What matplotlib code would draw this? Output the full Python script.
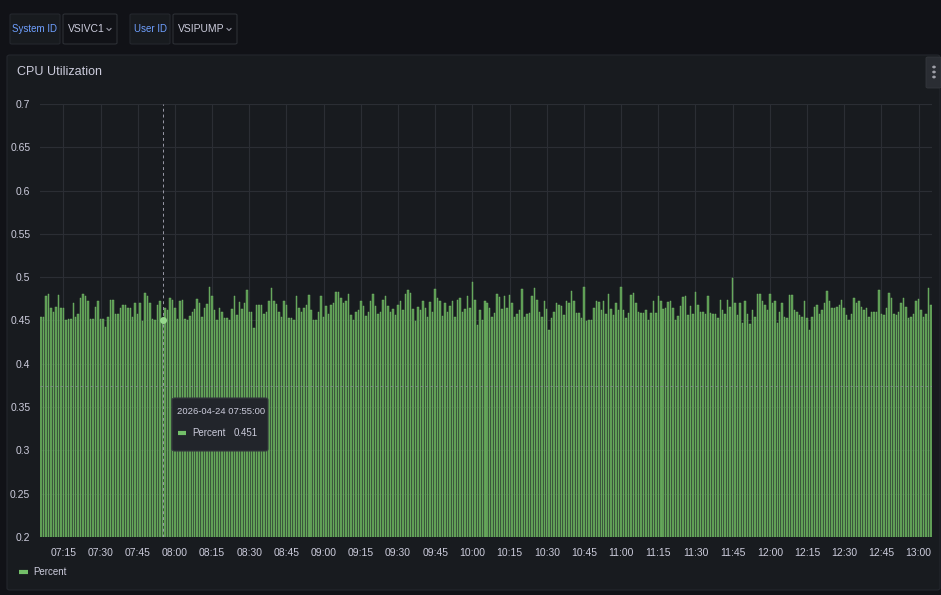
import matplotlib
matplotlib.use("Agg")
import matplotlib.pyplot as plt
import matplotlib.dates as mdates
from matplotlib.patches import FancyBboxPatch
import pandas as pd

# ---------------- data ----------------
start_time = "2026-04-24 07:06:00"
series_name = "Percent"
percent = [
    0.454, 0.454, 0.478, 0.481, 0.464, 0.460, 0.466, 0.480, 0.464, 0.464,
    0.451, 0.452, 0.452, 0.470, 0.454, 0.458, 0.476, 0.481, 0.478, 0.472,
    0.452, 0.452, 0.466, 0.472, 0.452, 0.452, 0.443, 0.454, 0.474, 0.474,
    0.458, 0.458, 0.464, 0.468, 0.468, 0.464, 0.464, 0.454, 0.470, 0.458,
    0.470, 0.449, 0.482, 0.478, 0.470, 0.452, 0.451, 0.468, 0.472, 0.451,
    0.464, 0.462, 0.476, 0.474, 0.464, 0.452, 0.472, 0.474, 0.452, 0.450,
    0.455, 0.460, 0.463, 0.475, 0.470, 0.454, 0.464, 0.469, 0.489, 0.478,
    0.462, 0.451, 0.464, 0.460, 0.453, 0.453, 0.451, 0.463, 0.478, 0.456,
    0.471, 0.463, 0.470, 0.485, 0.460, 0.460, 0.441, 0.468, 0.468, 0.468,
    0.458, 0.460, 0.472, 0.488, 0.472, 0.469, 0.460, 0.454, 0.472, 0.468,
    0.453, 0.453, 0.451, 0.478, 0.465, 0.460, 0.464, 0.468, 0.479, 0.462,
    0.451, 0.450, 0.460, 0.478, 0.454, 0.467, 0.457, 0.468, 0.470, 0.483,
    0.483, 0.476, 0.470, 0.472, 0.481, 0.456, 0.451, 0.460, 0.462, 0.472,
    0.467, 0.455, 0.460, 0.472, 0.481, 0.467, 0.458, 0.460, 0.474, 0.478,
    0.467, 0.460, 0.463, 0.456, 0.468, 0.472, 0.462, 0.481, 0.485, 0.482,
    0.463, 0.449, 0.466, 0.462, 0.472, 0.464, 0.454, 0.471, 0.460, 0.486,
    0.476, 0.472, 0.455, 0.470, 0.460, 0.467, 0.472, 0.454, 0.474, 0.476,
    0.460, 0.463, 0.478, 0.464, 0.494, 0.474, 0.445, 0.462, 0.451, 0.472,
    0.470, 0.464, 0.454, 0.459, 0.481, 0.477, 0.463, 0.478, 0.464, 0.479,
    0.470, 0.454, 0.458, 0.462, 0.486, 0.454, 0.458, 0.459, 0.478, 0.487,
    0.474, 0.460, 0.454, 0.472, 0.463, 0.439, 0.453, 0.460, 0.470, 0.468,
    0.467, 0.456, 0.473, 0.470, 0.484, 0.472, 0.459, 0.459, 0.453, 0.489,
    0.449, 0.451, 0.451, 0.464, 0.472, 0.471, 0.462, 0.472, 0.458, 0.481,
    0.463, 0.456, 0.470, 0.462, 0.489, 0.462, 0.453, 0.459, 0.479, 0.482,
    0.470, 0.460, 0.459, 0.459, 0.462, 0.451, 0.459, 0.473, 0.459, 0.478,
    0.473, 0.463, 0.465, 0.471, 0.472, 0.465, 0.451, 0.455, 0.467, 0.477,
    0.478, 0.456, 0.467, 0.458, 0.483, 0.468, 0.460, 0.460, 0.458, 0.478,
    0.459, 0.458, 0.458, 0.453, 0.474, 0.462, 0.458, 0.474, 0.466, 0.499,
    0.470, 0.456, 0.470, 0.447, 0.473, 0.458, 0.446, 0.462, 0.454, 0.481,
    0.481, 0.472, 0.468, 0.462, 0.481, 0.470, 0.472, 0.447, 0.460, 0.470,
    0.454, 0.453, 0.479, 0.479, 0.462, 0.460, 0.456, 0.454, 0.472, 0.453,
    0.439, 0.454, 0.466, 0.468, 0.458, 0.462, 0.470, 0.484, 0.472, 0.464,
    0.464, 0.466, 0.468, 0.474, 0.464, 0.456, 0.451, 0.458, 0.476, 0.470,
    0.472, 0.466, 0.462, 0.464, 0.454, 0.460, 0.460, 0.460, 0.485, 0.458,
    0.456, 0.464, 0.482, 0.476, 0.458, 0.456, 0.460, 0.470, 0.476, 0.466,
    0.453, 0.454, 0.458, 0.472, 0.475, 0.462, 0.454, 0.458, 0.488, 0.468,
]
y_ticks = [0.2, 0.25, 0.3, 0.35, 0.4, 0.45, 0.5, 0.55, 0.6, 0.65, 0.7]
y_tick_labels = ["0.2", "0.25", "0.3", "0.35", "0.4", "0.45", "0.5", "0.55", "0.6", "0.65", "0.7"]
hover_time = "2026-04-24 07:55:00"
hover_value = 0.451
variables = [("System ID", "VSIVC1"), ("User ID", "VSIPUMP")]
panel_title = "CPU Utilization"

times = pd.date_range(start_time, periods=len(percent), freq="1min")

# ---------------- style ----------------
W, H = 941, 595
FONT = ["Liberation Sans Narrow", "Liberation Sans", "DejaVu Sans"]
plt.rcParams["font.family"] = FONT
BG = "#111217"
PANEL = "#181b1f"
TEXT = "#ccccdc"
GRID = "#2b2e34"
GREEN = "#73bf69"

fig = plt.figure(figsize=(W / 100, H / 100), dpi=100, facecolor=BG)


def fx(px):
    return px / W


def fy(py):
    return 1 - py / H


def box(x0, y0, x1, y1, fc, ec, lw=0.8, r=2, z=0):
    p = FancyBboxPatch((fx(x0), fy(y1)), fx(x1 - x0), (y1 - y0) / H,
                       boxstyle=f"round,pad=0,rounding_size={r / W}",
                       transform=fig.transFigure, fc=fc, ec=ec, lw=lw, zorder=z)
    fig.add_artist(p)


# variable bar
xpos = 10
for label, value in variables:
    lw_ = 50 if label == "System ID" else 40
    vw = 54 if label == "System ID" else 64
    box(xpos, 14, xpos + lw_, 44, "#181b1f", "#24272d")
    fig.text(fx(xpos + lw_ / 2), fy(29), label, color="#6e9fff", fontsize=7,
             ha="center", va="center")
    box(xpos + lw_ + 3, 14, xpos + lw_ + 3 + vw, 44, "#111217", "#2c2f35")
    fig.text(fx(xpos + lw_ + 8), fy(29), value, color=TEXT, fontsize=7.5,
             ha="left", va="center")
    cx = xpos + lw_ + vw - 5
    fig.add_artist(plt.Line2D([fx(cx - 2), fx(cx), fx(cx + 2)], [fy(28.5), fy(30.5), fy(28.5)],
                              color="#9a9aa8", lw=0.8, transform=fig.transFigure))
    xpos = xpos + lw_ + 3 + vw + 13

# panel
box(7, 55, 940, 590, PANEL, "#24272d", lw=0.8, r=3)
fig.text(fx(17), fy(72), panel_title, color=TEXT, fontsize=9, ha="left",
         va="center", weight="medium")
# menu button
box(926, 57, 941, 88, "#2a2d33", "#34373d", lw=0.6, r=2)
for dy in (-5, 0, 5):
    fig.add_artist(plt.Circle((fx(934), fy(72 + dy)), 1.1 / W, transform=fig.transFigure,
                              color="#9fa0a8", zorder=2))

# plot axes
ax = fig.add_axes([fx(40), fy(537), fx(932 - 40), (537 - 104) / H])
ax.set_facecolor(PANEL)
ax.set_zorder(1)
ax.bar(times, percent, width=0.6 / 1440, bottom=0, color="#5a9650",
       edgecolor="#79c26f", linewidth=0.3, zorder=2)
ax.set_ylim(0.2, 0.7)
t0 = pd.Timestamp(start_time)
ax.set_xlim(t0 - pd.Timedelta(seconds=25), times[-1] + pd.Timedelta(seconds=25))
ax.set_yticks(y_ticks)
ax.set_yticklabels(y_tick_labels)
ax.xaxis.set_major_locator(mdates.MinuteLocator(byminute=[0, 15, 30, 45]))
ax.xaxis.set_major_formatter(mdates.DateFormatter("%H:%M"))
ax.grid(True, color=GRID, linewidth=0.8, zorder=0)
ax.set_axisbelow(True)
for s in ax.spines.values():
    s.set_visible(False)
ax.tick_params(axis="both", length=0, colors=TEXT, labelsize=7.5)
ax.tick_params(axis="y", pad=7)
ax.tick_params(axis="x", pad=8)

# crosshair
ht = pd.Timestamp(hover_time)
ax.axvline(ht, color="#9a9aa8", linestyle=(0, (3, 3)), linewidth=0.7, zorder=4)
cross_y = 0.7 - (386 - 104) / 433 * 0.5
ax.axhline(cross_y, color="#8a8d96", linestyle=(0, (3, 3)), linewidth=0.6, zorder=4, alpha=0.8)
ax.plot([ht], [hover_value], "o", color="#96d98d", markersize=5, zorder=5,
        markeredgewidth=0)

# tooltip (above the axes)
box(172, 398, 268, 451, "#22252b", "#34373d", lw=0.8, r=3, z=10)
fig.text(fx(177), fy(412), hover_time, color=TEXT, fontsize=6.8, ha="left", va="center", zorder=11)
fig.add_artist(plt.Line2D([fx(178), fx(186)], [fy(433), fy(433)], color=GREEN, lw=3,
                          transform=fig.transFigure, zorder=11, solid_capstyle="butt"))
fig.text(fx(192), fy(433), series_name, color=TEXT, fontsize=7, ha="left", va="center", zorder=11)
fig.text(fx(234), fy(433), f"{hover_value:.3f}", color=TEXT, fontsize=7, ha="left",
         va="center", zorder=11)

# legend
fig.add_artist(plt.Line2D([fx(19), fx(28)], [fy(572), fy(572)], color=GREEN, lw=3,
                          transform=fig.transFigure, solid_capstyle="butt"))
fig.text(fx(33), fy(572), series_name, color=TEXT, fontsize=7, ha="left", va="center")

fig.savefig("out.png", dpi=100, facecolor=BG)
